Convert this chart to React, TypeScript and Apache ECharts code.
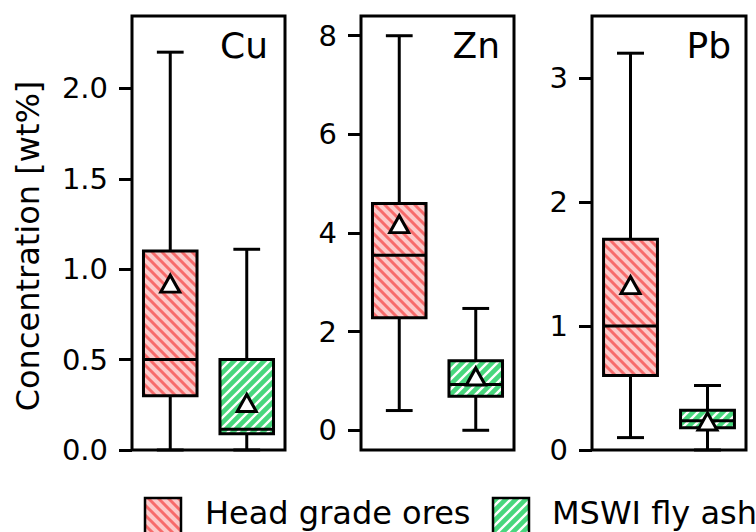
import React, { useEffect, useRef } from 'react';
import * as echarts from 'echarts';

const groups = ['Head grade ores', 'MSWI fly ash'];
const panels = ['Cu', 'Zn', 'Pb'];
// [low, q1, median, q3, high]
const cuHead = [0, 0.3, 0.5, 1.1, 2.2];
const cuAsh = [0, 0.09, 0.115, 0.5, 1.11];
const znHead = [0.4, 2.28, 3.55, 4.6, 8.0];
const znAsh = [0, 0.69, 0.93, 1.41, 2.47];
const pbHead = [0.1, 0.6, 1.0, 1.7, 3.2];
const pbAsh = [0, 0.18, 0.235, 0.32, 0.52];
const cuMean = [0.92, 0.26];
const znMean = [4.18, 1.09];
const pbMean = [1.33, 0.23];
const cuTicks = [0, 0.5, 1, 1.5, 2];
const znTicks = [0, 2, 4, 6, 8];
const pbTicks = [0, 1, 2, 3];
const yMin = [0, -0.4, 0];
const yMax = [2.4, 8.4, 3.5];
const yLabel = 'Concentration [wt%]';

const FONT = 'DejaVu Sans';

function makeHatch(bg: string, stripe: string, dir: 'back' | 'fwd', s: number, lw: number) {
  const c = document.createElement('canvas');
  c.width = s;
  c.height = s;
  const ctx = c.getContext('2d')!;
  ctx.fillStyle = bg;
  ctx.fillRect(0, 0, s, s);
  ctx.strokeStyle = stripe;
  ctx.lineWidth = lw;
  ctx.beginPath();
  if (dir === 'back') {
    ctx.moveTo(-3, -3); ctx.lineTo(s + 3, s + 3);
    ctx.moveTo(s - 3, -3); ctx.lineTo(s + 3, 3);
    ctx.moveTo(-3, s - 3); ctx.lineTo(3, s + 3);
  } else {
    ctx.moveTo(-3, s + 3); ctx.lineTo(s + 3, -3);
    ctx.moveTo(-3, 3); ctx.lineTo(3, -3);
    ctx.moveTo(s - 3, s + 3); ctx.lineTo(s + 3, s - 3);
  }
  ctx.stroke();
  return { image: c, repeat: 'repeat', imageWidth: s, imageHeight: s } as any;
}

export default function App() {
  const ref = useRef<HTMLDivElement>(null);
  useEffect(() => {
    if (!ref.current) return;
    const chart = echarts.init(ref.current, undefined, { renderer: 'svg' });
    const pink = makeHatch('#fccaca', '#f76b6b', 'back', 10, 3);
    const green = makeHatch('#48d77d', '#ffffff', 'fwd', 10, 2.4);
    const fills = [pink, green];
    const boxes = [[cuHead, cuAsh], [znHead, znAsh], [pbHead, pbAsh]];
    const means = [cuMean, znMean, pbMean];
    const ticks = [cuTicks, znTicks, pbTicks];
    const lefts = [132, 361, 592];
    const widths = [153, 153, 154];
    const top = 16;
    const height = 434;
    const LW = 3;

    const grids = lefts.map((l, i) => ({
      left: l, top, width: widths[i], height,
      show: true, borderColor: '#000', borderWidth: LW, backgroundColor: 'transparent',
    }));
    const xAxes = lefts.map((_, i) => ({
      type: 'category', gridIndex: i, data: groups, boundaryGap: true,
      axisLine: { show: false }, axisTick: { show: false }, axisLabel: { show: false }, splitLine: { show: false },
    }));
    const yAxes = lefts.map((_, i) => ({
      type: 'value', gridIndex: i, min: yMin[i], max: yMax[i],
      axisLine: { show: false }, splitLine: { show: false },
      axisTick: { show: true, length: 13, customValues: ticks[i], lineStyle: { color: '#000', width: LW } },
      axisLabel: {
        customValues: ticks[i], margin: 24, fontFamily: FONT, fontSize: 29, color: '#000',
        formatter: (v: number) => (i === 0 ? v.toFixed(1) : String(v)),
      },
    }));

    const series: any[] = [];
    boxes.forEach((pair, i) => {
      series.push({
        type: 'custom', xAxisIndex: i, yAxisIndex: i, clip: false,
        data: pair.map((b, k) => [k, ...b]),
        renderItem: (params: any, api: any) => {
          const x = api.value(0);
          const low = api.coord([x, api.value(1)]);
          const q1 = api.coord([x, api.value(2)]);
          const med = api.coord([x, api.value(3)]);
          const q3 = api.coord([x, api.value(4)]);
          const high = api.coord([x, api.value(5)]);
          const band = api.size([1, 0])[0];
          const bw = band * 0.7;
          const cw = bw * 0.5;
          const cx = low[0];
          const ls = { stroke: '#000', lineWidth: LW, fill: null };
          return {
            type: 'group',
            children: [
              { type: 'line', shape: { x1: cx, y1: q3[1], x2: cx, y2: high[1] }, style: ls },
              { type: 'line', shape: { x1: cx, y1: low[1], x2: cx, y2: q1[1] }, style: ls },
              { type: 'line', shape: { x1: cx - cw / 2, y1: high[1], x2: cx + cw / 2, y2: high[1] }, style: ls },
              { type: 'line', shape: { x1: cx - cw / 2, y1: low[1], x2: cx + cw / 2, y2: low[1] }, style: ls },
              {
                type: 'rect',
                shape: { x: cx - bw / 2, y: q3[1], width: bw, height: q1[1] - q3[1] },
                style: { fill: fills[params.dataIndex], stroke: '#000', lineWidth: LW },
              },
              { type: 'line', shape: { x1: cx - bw / 2, y1: med[1], x2: cx + bw / 2, y2: med[1] }, style: ls },
            ],
          };
        },
      });
      series.push({
        type: 'scatter', xAxisIndex: i, yAxisIndex: i, z: 5,
        symbol: 'triangle', symbolSize: [19, 17],
        itemStyle: { color: '#fff', borderColor: '#000', borderWidth: LW, opacity: 1 },
        data: means[i].map((m, k) => [k, m]),
      });
    });

    const titleRight = [268, 500, 731];
    const graphic: any[] = [
      {
        type: 'text', x: 28, y: 246, rotation: Math.PI / 2,
        style: { text: yLabel, font: `32px "${FONT}"`, fill: '#000', align: 'center', verticalAlign: 'middle' },
      },
      ...panels.map((p, i) => ({
        type: 'text', x: titleRight[i], y: 27,
        style: { text: p, font: `36px "${FONT}"`, fill: '#000', align: 'right', verticalAlign: 'top' },
      })),
      { type: 'rect', shape: { x: 145, y: 498, width: 36, height: 40 }, style: { fill: pink, stroke: '#000', lineWidth: 2.5 } },
      { type: 'text', x: 205, y: 497, style: { text: groups[0], font: `32px "${FONT}"`, fill: '#000', verticalAlign: 'top' } },
      { type: 'rect', shape: { x: 493, y: 498, width: 36, height: 40 }, style: { fill: green, stroke: '#000', lineWidth: 2.5 } },
      { type: 'text', x: 552, y: 497, style: { text: groups[1], font: `32px "${FONT}"`, fill: '#000', verticalAlign: 'top' } },
    ];

    chart.setOption({
      animation: false,
      backgroundColor: '#fff',
      grid: grids,
      xAxis: xAxes,
      yAxis: yAxes,
      series,
      graphic,
    } as any);
    return () => chart.dispose();
  }, []);
  return <div ref={ref} style={{ position: 'fixed', left: 0, top: 0, width: 756, height: 532 }} />;
}
